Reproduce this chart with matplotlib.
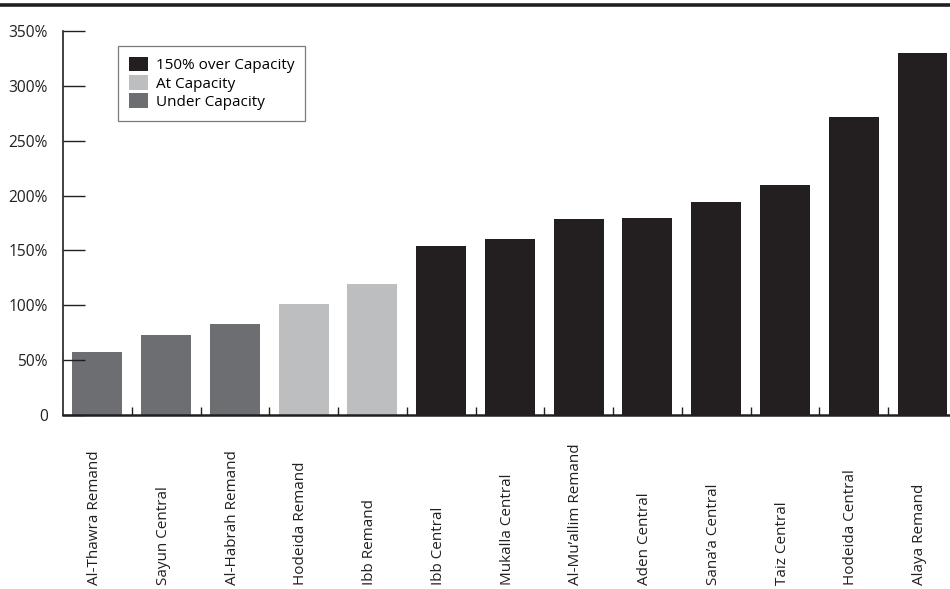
import numpy as np
import matplotlib
matplotlib.use("Agg")
import matplotlib.pyplot as plt
from matplotlib.patches import Patch
from matplotlib.lines import Line2D
import matplotlib.transforms as mtransforms

plt.rcParams['font.family'] = ['Open Sans', 'DejaVu Sans']

prisons = ["Al-Thawra Remand", "Sayun Central", "Al-Habrah Remand", "Hodeida Remand",
           "Ibb Remand", "Ibb Central", "Mukalla Central", "Al-Mu\u2019allim Remand",
           "Aden Central", "Sana\u2019a Central", "Taiz Central", "Hodeida Central",
           "Alaya Remand"]
occupancy = [57, 73, 83, 101, 119, 154, 160, 179, 180, 194, 210, 272, 330]
status = ["under", "under", "under", "at", "at", "over", "over", "over",
          "over", "over", "over", "over", "over"]

yticks = [0, 50, 100, 150, 200, 250, 300, 350]
yticklabels = ["0", "50%", "100%", "150%", "200%", "250%", "300%", "350%"]

colors = {"over": "#231f20", "at": "#bcbec0", "under": "#6d6e71"}
legend_names = [("over", "150% over Capacity"), ("at", "At Capacity"), ("under", "Under Capacity")]

fig = plt.figure(figsize=(9.5, 5.89), dpi=100)
ax = fig.add_axes([63/950, 1-415/589, 1-63/950, (415-31)/589])

x = np.arange(len(prisons))
ax.bar(x, occupancy, width=0.727, color=[colors[s] for s in status], zorder=1)

ax.set_xlim(-0.5, 12.40)
ax.set_ylim(0, 350)

ax.spines['top'].set_visible(False)
ax.spines['right'].set_visible(False)
ax.spines['left'].set_linewidth(1.2)
ax.spines['bottom'].set_linewidth(1.8)
ax.spines['left'].set_color("#231f20")
ax.spines['bottom'].set_color("#231f20")

ax.set_yticks(yticks)
ax.set_yticklabels(yticklabels, fontsize=11.2, color="#231f20")
ax.tick_params(axis='y', direction='in', length=15.5, width=1.0, pad=11, color="#231f20")

ax.set_xticks(x[:-1] + 0.5)
ax.set_xticklabels([])
ax.tick_params(axis='x', direction='in', length=6, width=1.0, color="#231f20")

trans = mtransforms.blended_transform_factory(ax.transData, fig.transFigure)
for xi, name in zip(x, prisons):
    ax.text(xi - 0.04, 4/589, name, transform=trans, rotation=90, ha='center',
            va='bottom', fontsize=11, color="#231f20")

handles = [Patch(facecolor=colors[k], edgecolor='none', label=lab) for k, lab in legend_names]
leg = fig.legend(handles=handles, loc='upper left', bbox_to_anchor=(118/950, 1-46/589),
                 borderaxespad=0, fontsize=11, frameon=True, fancybox=False,
                 handlelength=1.25, handleheight=1.1, labelspacing=0.12,
                 handletextpad=0.55, borderpad=0.7)
leg.get_frame().set_edgecolor("#58595b")
leg.get_frame().set_linewidth(0.9)

fig.add_artist(Line2D([0, 1], [1-4.5/589, 1-4.5/589], transform=fig.transFigure,
                      color="#231f20", linewidth=2.6))

fig.savefig("out.png", dpi=100)
